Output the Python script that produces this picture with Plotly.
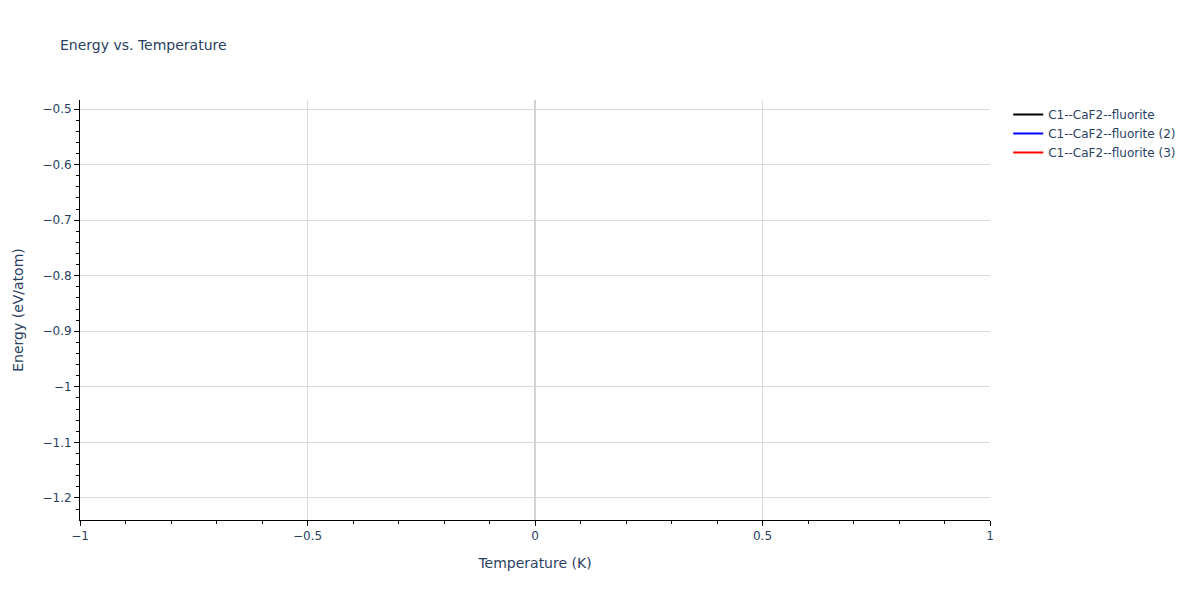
import plotly.graph_objects as go

# each run has a single T = 0 K point, so no line gets drawn
series_names = ["C1--CaF2--fluorite", "C1--CaF2--fluorite (2)", "C1--CaF2--fluorite (3)"]
series_colors = ["black", "blue", "red"]
temperatures = [[0], [0], [0]]
energies = [[-0.518], [-1.205], [-0.86]]

fig = go.Figure()
for name, color, t, e in zip(series_names, series_colors, temperatures, energies):
    fig.add_trace(go.Scatter(x=t, y=e, mode="lines", name=name, line=dict(color=color)))

fig.update_layout(
    title=dict(text="Energy vs. Temperature", font=dict(size=14)),
    width=1200, height=600,
    font=dict(family="DejaVu Sans", size=12, color="#2a3f5f"),
    plot_bgcolor="white", paper_bgcolor="white",
    margin=dict(l=80, r=210, t=100, b=80),
    legend=dict(x=1.02, y=1, bgcolor="rgba(0,0,0,0)"),
)
fig.update_xaxes(
    title=dict(text="Temperature (K)", font=dict(size=14)), range=[-1, 1],
    showline=True, linecolor="black", ticks="outside", tickcolor="black",
    showgrid=True, gridcolor="#dcdcdc",
    zeroline=True, zerolinecolor="#d3d3d3", zerolinewidth=2,
    minor=dict(ticks="outside", dtick=0.1, tickcolor="black", showgrid=False),
)
fig.update_yaxes(
    title=dict(text="Energy (eV/atom)", font=dict(size=14)), range=[-1.2396, -0.4838],
    showline=True, linecolor="black", ticks="outside", tickcolor="black",
    showgrid=True, gridcolor="#dcdcdc",
    zeroline=True, zerolinecolor="#d3d3d3", zerolinewidth=2,
    minor=dict(ticks="outside", dtick=0.02, tickcolor="black", showgrid=False),
)
fig.write_html("out.html", config={"displayModeBar": False},
               post_script="document.body.style.margin='0';")
